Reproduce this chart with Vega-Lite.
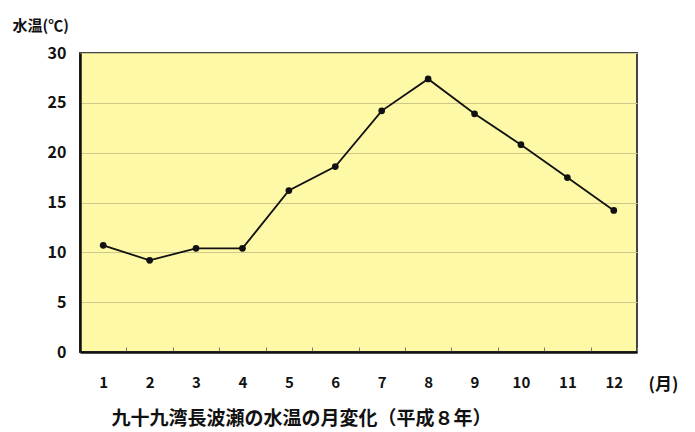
{
  "$schema": "https://vega.github.io/schema/vega-lite/v6.json",
  "width": 557,
  "height": 299,
  "autosize": "none",
  "padding": {"left": 80, "top": 53, "right": 58, "bottom": 80},
  "background": "white",
  "config": {
    "font": "Noto Sans CJK JP",
    "view": {"fill": "#FEF9A6", "stroke": "#444", "strokeWidth": 2}
  },
  "title": {
    "text": "九十九湾長波瀬の水温の月変化（平成８年）",
    "orient": "bottom",
    "anchor": "middle",
    "frame": "group",
    "dx": -57,
    "dy": 14,
    "fontSize": 19,
    "fontWeight": "bold",
    "color": "#111"
  },
  "data": {
    "values": [
      {"month": 1, "temp": 10.7},
      {"month": 2, "temp": 9.2},
      {"month": 3, "temp": 10.4},
      {"month": 4, "temp": 10.4},
      {"month": 5, "temp": 16.2},
      {"month": 6, "temp": 18.6},
      {"month": 7, "temp": 24.2},
      {"month": 8, "temp": 27.4},
      {"month": 9, "temp": 23.9},
      {"month": 10, "temp": 20.8},
      {"month": 11, "temp": 17.5},
      {"month": 12, "temp": 14.2}
    ]
  },
  "encoding": {
    "x": {
      "field": "month",
      "type": "ordinal",
      "scale": {"type": "band", "paddingInner": 0, "paddingOuter": 0},
      "axis": {
        "title": "(月)",
        "titleX": 568,
        "titleY": 37,
        "titleAlign": "left",
        "titleBaseline": "alphabetic",
        "titleFontSize": 17,
        "titleFontWeight": "bold",
        "titleColor": "#111",
        "labelAngle": 0,
        "labelFontSize": 15,
        "labelFontWeight": "bold",
        "labelColor": "#111",
        "labelPadding": 28,
        "tickBand": "extent",
        "tickSize": -5,
        "tickColor": "#777",
        "domainColor": "#111",
        "domainWidth": 2.5,
        "grid": false
      }
    },
    "y": {
      "field": "temp",
      "type": "quantitative",
      "scale": {"domain": [0, 30], "nice": false},
      "axis": {
        "title": "水温(℃)",
        "titleAngle": 0,
        "titleX": -68,
        "titleY": -23,
        "titleAlign": "left",
        "titleBaseline": "alphabetic",
        "titleFontSize": 15,
        "titleFontWeight": "bold",
        "titleColor": "#111",
        "values": [0, 5, 10, 15, 20, 25, 30],
        "labelFontSize": 16,
        "labelFontWeight": "bold",
        "labelColor": "#111",
        "labelPadding": 14,
        "ticks": false,
        "domainColor": "#111",
        "domainWidth": 2.5,
        "grid": true,
        "gridColor": "#CFC789",
        "gridWidth": 1.2
      }
    }
  },
  "layer": [
    {"mark": {"type": "line", "color": "#111", "strokeWidth": 1.8}},
    {"mark": {"type": "point", "filled": true, "color": "#111", "size": 45, "opacity": 1}}
  ]
}
